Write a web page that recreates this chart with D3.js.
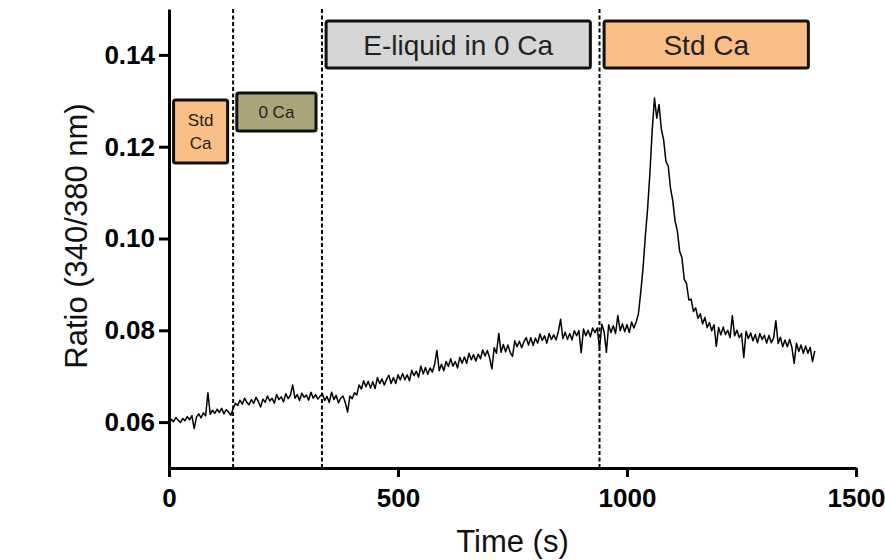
<!DOCTYPE html>
<html>
<head>
<meta charset="utf-8">
<script src="https://cdn.jsdelivr.net/npm/d3@7"></script>
<style>
  body { margin: 0; background: #fff; }
  svg { display: block; font-family: "Liberation Sans", Arial, sans-serif; }
</style>
</head>
<body>
<svg id="chart" width="885" height="560"></svg>
<script>
// seconds between samples of the trace
const sampleStep = 5

// 340/380 ratio, one value every 5 s from t = 0
const ratio = [
  // Std Ca (0-140 s)
  0.0598, 0.0606, 0.0601, 0.0610, 0.0604, 0.0599, 0.0608, 0.0603, 0.0612, 0.0605,
  0.0614, 0.0586, 0.0611, 0.0618, 0.0609, 0.0620, 0.0614, 0.0664, 0.0617, 0.0626,
  0.0619, 0.0628, 0.0621, 0.0630, 0.0618, 0.0627, 0.0622, 0.0615, 0.0629,
  // 0 Ca (145-330 s)
  0.0641, 0.0636, 0.0648, 0.0639, 0.0652, 0.0643, 0.0638, 0.0649, 0.0641, 0.0654,
  0.0645, 0.0633, 0.0650, 0.0643, 0.0657, 0.0646, 0.0652, 0.0641, 0.0660, 0.0649,
  0.0655, 0.0644, 0.0662, 0.0651, 0.0658, 0.0681, 0.0652, 0.0660, 0.0647, 0.0663,
  0.0654, 0.0659, 0.0648, 0.0665, 0.0652, 0.0660, 0.0650, 0.0657,
  // E-liquid in 0 Ca (335-935 s)
  0.0661, 0.0647, 0.0656, 0.0643, 0.0665, 0.0649, 0.0658, 0.0642, 0.0652, 0.0657,
  0.0642, 0.0622, 0.0657, 0.0651, 0.0664, 0.0659, 0.0681, 0.0672, 0.0690, 0.0677,
  0.0689, 0.0674, 0.0688, 0.0673, 0.0697, 0.0684, 0.0694, 0.0681, 0.0693, 0.0702,
  0.0684, 0.0697, 0.0684, 0.0703, 0.0692, 0.0706, 0.0692, 0.0703, 0.0690, 0.0713,
  0.0701, 0.0711, 0.0698, 0.0722, 0.0705, 0.0719, 0.0704, 0.0718, 0.0709, 0.0726,
  0.0756, 0.0712, 0.0726, 0.0712, 0.0732, 0.0721, 0.0738, 0.0722, 0.0732, 0.0718,
  0.0741, 0.0728, 0.0742, 0.0728, 0.0750, 0.0736, 0.0747, 0.0733, 0.0748, 0.0738,
  0.0757, 0.0744, 0.0756, 0.0740, 0.0716, 0.0762, 0.0750, 0.0793, 0.0752, 0.0769,
  0.0753, 0.0768, 0.0752, 0.0743, 0.0777, 0.0764, 0.0776, 0.0762, 0.0775, 0.0784,
  0.0768, 0.0784, 0.0767, 0.0783, 0.0772, 0.0792, 0.0778, 0.0788, 0.0772, 0.0793,
  0.0780, 0.0790, 0.0779, 0.0797, 0.0824, 0.0782, 0.0796, 0.0780, 0.0793, 0.0779,
  0.0799, 0.0788, 0.0799, 0.0751, 0.0803, 0.0788, 0.0800, 0.0786, 0.0805, 0.0795,
  0.0805,
  // Std Ca (940-1410 s)
  0.0760, 0.0813, 0.0797, 0.0752, 0.0812, 0.0795, 0.0810, 0.0793, 0.0832, 0.0799,
  0.0814, 0.0797, 0.0812, 0.0795, 0.0818, 0.0805, 0.0818, 0.0836, 0.0883, 0.0935,
  0.1005, 0.1065, 0.1142, 0.1235, 0.1306, 0.1262, 0.1292, 0.1238, 0.1215, 0.1168,
  0.1158, 0.1110, 0.1082, 0.1038, 0.1016, 0.0972, 0.0958, 0.0911, 0.0902, 0.0866,
  0.0868, 0.0841, 0.0849, 0.0826, 0.0836, 0.0814, 0.0828, 0.0806, 0.0817, 0.0799,
  0.0812, 0.0765, 0.0806, 0.0790, 0.0807, 0.0791, 0.0800, 0.0784, 0.0832, 0.0788,
  0.0800, 0.0784, 0.0793, 0.0741, 0.0798, 0.0782, 0.0794, 0.0777, 0.0791, 0.0773,
  0.0793, 0.0780, 0.0789, 0.0772, 0.0789, 0.0773, 0.0783, 0.0821, 0.0771, 0.0785,
  0.0764, 0.0779, 0.0764, 0.0780, 0.0763, 0.0728, 0.0772, 0.0754, 0.0768, 0.0750,
  0.0766, 0.0750, 0.0763, 0.0732, 0.0755
]

// times (s) where the bath solution was switched
const solutionChanges = [140, 334, 940]

// protocol bars: label lines and the time span each bar covers
const phaseLabels = [['Std', 'Ca'], ['0 Ca'], ['E-liquid in 0 Ca'], ['Std Ca']]
const phaseStart = [10, 148, 343, 950]
const phaseEnd = [128, 321, 920, 1396]
const phaseColors = ['#f9bf86', '#aba577', '#d6d6d6', '#f9bf86']

const xTicks = [0, 500, 1000, 1500]
const yTicks = [0.06, 0.08, 0.10, 0.12, 0.14]

const margin = { top: 9, right: 29, bottom: 92, left: 169 }
const width = 885 - margin.left - margin.right
const height = 560 - margin.top - margin.bottom

const svg = d3.select('#chart')
const g = svg.append('g').attr('transform', `translate(${margin.left},${margin.top})`)

const x = d3.scaleLinear().domain([0, 1500]).range([0, width])
const y = d3.scaleLinear().domain([0.05, 0.15]).range([height, 0])

// dotted lines at each solution change
g.selectAll('line.change')
  .data(solutionChanges)
  .enter()
  .append('line')
  .attr('class', 'change')
  .attr('x1', (d) => x(d))
  .attr('x2', (d) => x(d))
  .attr('y1', y(0.15))
  .attr('y2', y(0.05))
  .attr('stroke', '#000')
  .attr('stroke-width', 2)
  .attr('stroke-dasharray', '4,2.5')

// trace
const line = d3.line()
  .x((d, i) => x(i * sampleStep))
  .y((d) => y(d))

g.append('path')
  .datum(ratio)
  .attr('fill', 'none')
  .attr('stroke', '#000')
  .attr('stroke-width', 1.5)
  .attr('stroke-linejoin', 'round')
  .attr('d', line)

// protocol bars (vertical placement in px, as drawn)
const barRows = [
  { top: 91, h: 63, size: 17 },
  { top: 84, h: 38, size: 17 },
  { top: 12, h: 47, size: 28 },
  { top: 12, h: 47, size: 28 }
]

const bars = g.selectAll('g.bar')
  .data(phaseLabels)
  .enter()
  .append('g')
  .attr('class', 'bar')

bars.append('rect')
  .attr('x', (d, i) => x(phaseStart[i]))
  .attr('y', (d, i) => barRows[i].top)
  .attr('width', (d, i) => x(phaseEnd[i]) - x(phaseStart[i]))
  .attr('height', (d, i) => barRows[i].h)
  .attr('rx', 2)
  .attr('fill', (d, i) => phaseColors[i])
  .attr('stroke', '#111')
  .attr('stroke-width', 3)

bars.each(function (lines, i) {
  const row = barRows[i]
  const cx = (x(phaseStart[i]) + x(phaseEnd[i])) / 2
  const lh = row.size * 1.35
  const y0 = row.top + row.h / 2 - ((lines.length - 1) * lh) / 2
  d3.select(this)
    .selectAll('text')
    .data(lines)
    .enter()
    .append('text')
    .attr('x', cx)
    .attr('y', (d, j) => y0 + j * lh)
    .attr('dy', '0.36em')
    .attr('text-anchor', 'middle')
    .attr('font-size', row.size)
    .attr('fill', '#222')
    .text((d) => d)
})

// axes
const xAxis = g.append('g')
  .attr('transform', `translate(0,${height})`)
  .call(d3.axisBottom(x).tickValues(xTicks).tickFormat(d3.format('d')).tickSize(9).tickSizeOuter(0).tickPadding(12))

const yAxis = g.append('g')
  .call(d3.axisLeft(y).tickValues(yTicks).tickFormat(d3.format('.2f')).tickSize(10).tickSizeOuter(0).tickPadding(4))

;[xAxis, yAxis].forEach((a) => {
  a.select('.domain').attr('stroke', '#000').attr('stroke-width', 3)
  a.selectAll('.tick line').attr('stroke', '#000').attr('stroke-width', 3)
  a.selectAll('.tick text')
    .attr('fill', '#000')
    .attr('font-size', 26)
    .attr('font-weight', 'bold')
    .attr('font-family', '"Liberation Sans", Arial, sans-serif')
})

// axis titles
svg.append('text')
  .attr('x', margin.left + width / 2)
  .attr('y', 552)
  .attr('text-anchor', 'middle')
  .attr('font-size', 31)
  .attr('fill', '#111')
  .text('Time (s)')

svg.append('text')
  .attr('transform', `translate(87,${margin.top + 227}) rotate(-90)`)
  .attr('text-anchor', 'middle')
  .attr('font-size', 31)
  .attr('fill', '#111')
  .text('Ratio (340/380 nm)')
</script>
</body>
</html>
